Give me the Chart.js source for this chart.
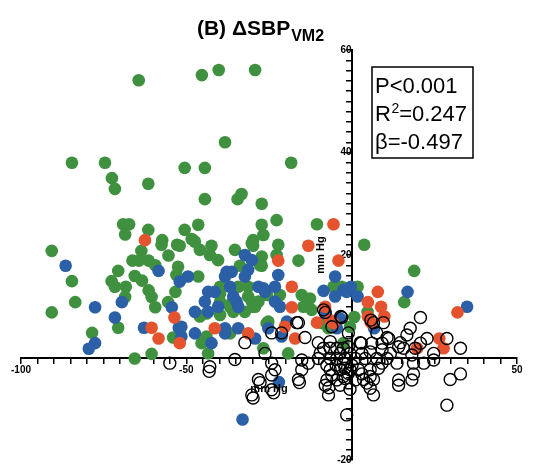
<!DOCTYPE html>
<html>
<head>
<meta charset="utf-8">
<script src="https://cdn.jsdelivr.net/npm/chart.js@4.4.1/dist/chart.umd.min.js"></script>
<style>
  html, body { margin: 0; padding: 0; background: #fff; }
  #wrap { width: 537px; height: 473px; }
</style>
</head>
<body>
<div id="wrap"><canvas id="chart"></canvas></div>
<script>
// points, [x, y] in mm Hg
const green = [
  [-64.4, 54.1], [-45.3, 55.1], [-40.2, 56.1], [-29.2, 56.1], [-38.3, 42.0],
  [-50.5, 37.0], [-44.4, 37.0], [-18.3, 38.0], [-44.4, 30.9], [-34.5, 30.9],
  [-33.3, 31.9], [-27.2, 30.0], [-84.6, 38.0], [-74.6, 38.0], [-72.5, 35.0],
  [-71.6, 32.9], [-61.5, 33.9], [-69.1, 26.0], [-67.3, 26.0], [-68.5, 24.0],
  [-61.5, 24.9], [-57.3, 22.9], [-57.5, 22.0], [-90.7, 20.8], [-63.6, 20.8],
  [-55.4, 19.9], [-66.3, 18.9], [-64.3, 18.9], [-61.4, 18.9], [-59.4, 18.0],
  [-70.6, 16.9], [-65.6, 15.9], [-63.4, 15.0], [-72.6, 14.9], [-71.6, 13.8],
  [-68.3, 13.8], [-68.5, 11.8], [-84.6, 14.9], [-61.4, 13.1], [-60.5, 11.8],
  [-83.6, 10.8], [-90.7, 8.8], [-59.4, 9.8], [-55.5, 10.8], [-53.3, 12.8],
  [-52.8, 22.0], [-70.6, 5.8], [-78.5, 4.8], [-65.6, -0.2], [-60.5, 0.7],
  [-54.0, 3.9], [-46.4, 25.9], [-50.5, 24.9], [-47.9, 22.9], [-52.0, 21.8],
  [-45.9, 21.0], [-42.4, 21.8], [-42.9, 20.0], [-40.4, 19.0], [-35.3, 21.0],
  [-27.2, 25.9], [-29.8, 22.9], [-29.8, 21.8], [-26.7, 23.9], [-52.5, 17.7],
  [-46.4, 15.8], [-33.8, 17.9], [-27.2, 17.9], [-27.2, 19.7], [-31.3, 13.8],
  [-31.3, 11.9], [-28.2, 10.9], [-35.8, 8.9], [-32.3, 8.9], [-34.3, 13.8],
  [-45.9, 8.0], [-43.9, 4.1], [-45.4, 2.8], [-43.4, 0.8], [-39.8, 13.8],
  [-39.8, 10.9], [-36.8, 9.9], [-29.8, 9.9], [-25.7, 6.7], [-22.7, 26.8],
  [-10.5, 26.0], [-48.4, 23.1], [-47.4, 22.6], [-30.2, 22.3], [-22.2, 22.0],
  [-22.7, 20.0], [-27.7, 18.0], [-16.1, 18.9], [-53.0, 16.1], [-39.8, 12.5],
  [-36.3, 10.6], [-30.2, 10.9], [-29.2, 9.9], [-25.7, 12.2], [-21.7, 12.2],
  [-15.1, 12.2], [-12.6, 11.5], [-14.6, 9.9], [-12.1, 9.3], [-43.9, 8.6],
  [-39.8, 8.3], [-36.8, 4.7], [-25.2, 7.0], [-26.7, 1.8], [-19.2, 0.8],
  [-9.0, 6.7], [-7.0, 5.7], [3.8, 22.0], [18.9, 16.9], [15.9, 10.8],
  [4.8, 8.9], [0.8, 7.9], [1.8, 13.8], [-5.5, 13.8], [-3.0, 13.8],
  [-0.5, 6.0], [-2.5, 2.8]
];
const blue = [
  [-86.5, 17.9], [-58.4, 16.9], [-77.6, 9.8], [-69.5, 10.8], [-71.6, 7.8],
  [-54.4, 9.8], [-62.8, 5.8], [-77.6, 2.8], [-79.5, 1.7], [-52.0, 14.8],
  [-52.3, 5.8], [-49.5, 15.8], [-47.4, 8.9], [-43.4, 8.9], [-44.4, 10.9],
  [-43.4, 12.8], [-40.4, 9.9], [-41.4, 12.8], [-37.8, 16.7], [-36.3, 16.7],
  [-38.3, 15.8], [-32.3, 20.0], [-30.2, 19.0], [-31.3, 17.1], [-32.3, 15.8],
  [-36.8, 13.8], [-35.8, 11.9], [-34.8, 10.9], [-34.3, 9.9], [-28.2, 13.8],
  [-26.2, 12.8], [-51.5, 6.0], [-51.5, 4.1], [-47.4, 4.7], [-42.4, 2.8],
  [-38.3, 5.7], [-38.3, 4.7], [-34.3, 5.7], [-29.2, 3.7], [-25.2, 5.7],
  [-22.2, 16.1], [-23.2, 13.8], [-26.7, 13.5], [-23.2, 10.9], [-21.7, 9.9],
  [-19.6, 7.0], [-21.2, 4.1], [-8.5, 13.0], [-5.0, 15.8], [-2.5, 13.2],
  [-5.0, 11.9], [-8.0, 8.6], [-3.5, 7.6], [-4.5, 5.7], [16.9, 12.8],
  [34.9, 9.9], [-1.5, 12.8], [-0.2, 13.8], [1.8, 11.9], [6.8, 5.7],
  [-33.0, -12.1], [-22.0, -4.8]
];
const orange = [
  [-62.5, 22.9], [-60.5, 5.8], [-58.4, 3.7], [-53.6, 7.8], [-52.0, 2.8],
  [-41.4, 5.7], [-31.3, 4.7], [-5.5, 26.0], [-13.1, 21.8], [-22.2, 18.9],
  [-4.0, 18.9], [-18.1, 13.8], [-18.1, 9.8], [-10.5, 6.8], [-20.2, 6.0],
  [-17.1, 3.7], [-6.5, 7.3], [7.9, 12.8], [4.9, 10.8], [8.9, 9.9],
  [4.9, 8.0], [9.9, 8.0], [5.8, 6.8], [32.0, 8.8], [19.8, 1.8],
  [26.5, 3.7], [27.8, 1.8], [-5.5, 6.7], [-8.0, 9.9]
];
const open = [
  [-8.0, 8.8], [-3.0, 7.8], [-16.1, 6.8], [-24.2, 4.8], [-21.2, 4.8],
  [-14.1, 3.9], [-6.0, 6.0], [-1.0, 4.8], [-32.3, 2.9], [-10.1, 2.9],
  [-8.5, 1.8], [-6.5, 1.8], [-4.5, 1.8], [-2.5, 1.8], [2.6, 2.9],
  [6.6, 6.8], [7.6, 4.8], [10.7, 3.9], [9.2, 2.8], [14.7, 2.9],
  [16.7, 4.4], [17.7, 5.7], [20.8, 7.8], [22.8, 3.7], [28.8, 3.7],
  [32.9, 1.8], [24.8, 0.8], [15.7, 1.8], [19.2, 1.8], [-26.2, 0.8],
  [-35.3, -0.4], [-24.2, -1.1], [-15.1, -0.5], [-13.1, -1.1], [-10.1, -0.2],
  [-6.5, -0.2], [-4.5, -0.2], [-2.0, -0.2], [1.1, -0.2], [4.1, -0.2],
  [7.6, -0.2], [11.7, 0.8], [13.7, -1.1], [18.7, -1.1], [21.8, -1.1],
  [24.8, -0.5], [-23.2, -2.4], [-15.1, -2.4], [-6.5, -2.4], [-3.5, -2.4],
  [-0.5, -2.4], [2.1, -2.4], [5.6, -2.4], [8.1, -2.1], [-24.2, -3.4],
  [-16.1, -4.3], [-28.2, -4.3], [-7.5, -4.4], [-4.5, -4.4], [-2.0, -4.1],
  [1.1, -4.4], [3.6, -4.3], [6.6, -4.3], [14.2, -4.4], [18.2, -4.4],
  [18.7, -3.2], [29.8, -4.3], [32.9, -3.2], [-24.2, -6.3], [-30.2, -7.3],
  [-8.0, -5.4], [-7.0, -7.3], [-0.5, -6.2], [6.6, -7.3], [5.6, -6.0],
  [14.2, -5.4], [28.8, -9.3], [-1.5, -11.2], [-2.5, -1.1], [-1.0, -3.1],
  [-2.5, -3.7], [0.1, -1.5], [-3.5, 0.8], [-1.0, 2.1], [-0.5, 0.8],
  [-6.5, 3.1], [-9.5, 0.9], [3.1, 0.8], [6.1, 2.8], [5.6, 1.1],
  [9.2, -1.1], [9.2, 1.5], [10.7, -0.2], [14.2, 2.1], [18.2, 0.5],
  [20.8, 2.8], [-2.0, -2.1], [-4.7, -1.5], [-7.5, -1.5], [-6.0, -3.4],
  [5.6, -3.7], [3.1, -3.2], [-3.5, -5.4], [4.6, -5.0], [11.2, 3.7],
  [9.6, 6.8], [5.8, 7.3], [2.9, 2.8], [-3.3, 8.0], [-16.6, 6.8],
  [-42.9, -1.8], [-55.0, -1.1], [-8.5, 9.3], [-43.1, -2.7], [-27.7, -4.9],
  [-29.8, -7.9], [-23.6, -6.9], [-15.8, -4.9], [-6.9, -5.9]
];

const xLabels = [-100, -50, 50];
const yLabels = [60, 40, 20, -20];
// [main text, superscript, rest]
const stats = [["P<0.001", "", ""], ["R", "2", "=0.247"], ["β=-0.497", "", ""]];

const toPts = (arr) => arr.map(([x, y]) => ({ x, y }));

// title with subscript, axis names, stats box
const extraText = {
  id: "extraText",
  afterDraw(chart) {
    const ctx = chart.ctx;
    const area = chart.chartArea;
    ctx.save();
    ctx.fillStyle = "#000";
    ctx.textBaseline = "alphabetic";

    // title
    const mainFont = "bold 21px 'Liberation Sans', Arial, sans-serif";
    const subFont = "bold 16px 'Liberation Sans', Arial, sans-serif";
    ctx.font = mainFont;
    const mainW = ctx.measureText("(B) ΔSBP").width;
    ctx.font = subFont;
    const subW = ctx.measureText("VM2").width;
    let tx = 260 - (mainW + subW) / 2;
    ctx.font = mainFont;
    ctx.textAlign = "left";
    ctx.fillText("(B) ΔSBP", tx, 35);
    ctx.font = subFont;
    ctx.fillText("VM2", tx + mainW + 1, 40.5);

    // axis names
    ctx.font = "bold 11px 'Liberation Sans', Arial, sans-serif";
    ctx.textAlign = "center";
    ctx.textBaseline = "middle";
    ctx.fillText("mm Hg", (area.left + area.right) / 2, 389);
    ctx.save();
    ctx.translate(321, (area.top + area.bottom) / 2);
    ctx.rotate(-Math.PI / 2);
    ctx.fillText("mm Hg", 0, 0);
    ctx.restore();

    // stats box
    ctx.lineWidth = 1.5;
    ctx.strokeStyle = "#000";
    ctx.strokeRect(372, 67, 101, 91);
    const big = "22px 'Liberation Sans', Arial, sans-serif";
    const small = "14px 'Liberation Sans', Arial, sans-serif";
    ctx.textAlign = "left";
    ctx.textBaseline = "alphabetic";
    stats.forEach(([a, sup, rest], i) => {
      const by = 93 + i * 28;
      let x = 375;
      ctx.font = big;
      ctx.fillText(a, x, by);
      x += ctx.measureText(a).width;
      if (sup) {
        ctx.font = small;
        ctx.fillText(sup, x + 0.5, by - 8);
        x += ctx.measureText(sup).width + 0.5;
      }
      if (rest) {
        ctx.font = big;
        ctx.fillText(rest, x, by);
      }
    });
    ctx.restore();
  }
};

const tickFont = { family: "'Liberation Sans', Arial, sans-serif", size: 10, weight: "bold" };

new Chart(document.getElementById("chart").getContext("2d"), {
  type: "scatter",
  data: {
    datasets: [
      { label: "open", data: toPts(open), backgroundColor: "rgba(0,0,0,0)", borderColor: "#000", borderWidth: 1.4, pointRadius: 6 },
      { label: "orange", data: toPts(orange), backgroundColor: "#e4532d", borderColor: "#e4532d", borderWidth: 0, pointRadius: 6.3 },
      { label: "blue", data: toPts(blue), backgroundColor: "#2b5fa6", borderColor: "#2b5fa6", borderWidth: 0, pointRadius: 6.3 },
      { label: "green", data: toPts(green), backgroundColor: "#3f913f", borderColor: "#3f913f", borderWidth: 0, pointRadius: 6.3 }
    ]
  },
  options: {
    responsive: true,
    maintainAspectRatio: false,
    animation: false,
    layout: { padding: { left: 21, right: 20, top: 50, bottom: 13 } },
    plugins: {
      legend: { display: false },
      title: { display: false },
      tooltip: { enabled: false }
    },
    elements: { point: { hoverRadius: 6 } },
    scales: {
      x: {
        type: "linear",
        min: -100,
        max: 50,
        position: { y: 0 },
        border: { display: true, color: "#000", width: 2 },
        grid: { drawOnChartArea: false, drawTicks: true, tickLength: 5, color: "#000", lineWidth: 1.5 },
        ticks: {
          stepSize: 5,
          autoSkip: false,
          maxRotation: 0,
          padding: 2,
          color: "#000",
          font: tickFont,
          callback: (v) => (xLabels.includes(v) ? String(v) : "")
        }
      },
      y: {
        type: "linear",
        min: -20,
        max: 60,
        position: { x: 0 },
        border: { display: true, color: "#000", width: 2 },
        grid: { drawOnChartArea: false, drawTicks: true, tickLength: 5, color: "#000", lineWidth: 1.5 },
        ticks: {
          stepSize: 2,
          autoSkip: false,
          padding: 1,
          color: "#000",
          font: tickFont,
          callback: (v) => (yLabels.includes(v) ? String(v) : "")
        }
      }
    }
  },
  plugins: [extraText]
});
</script>
</body>
</html>
